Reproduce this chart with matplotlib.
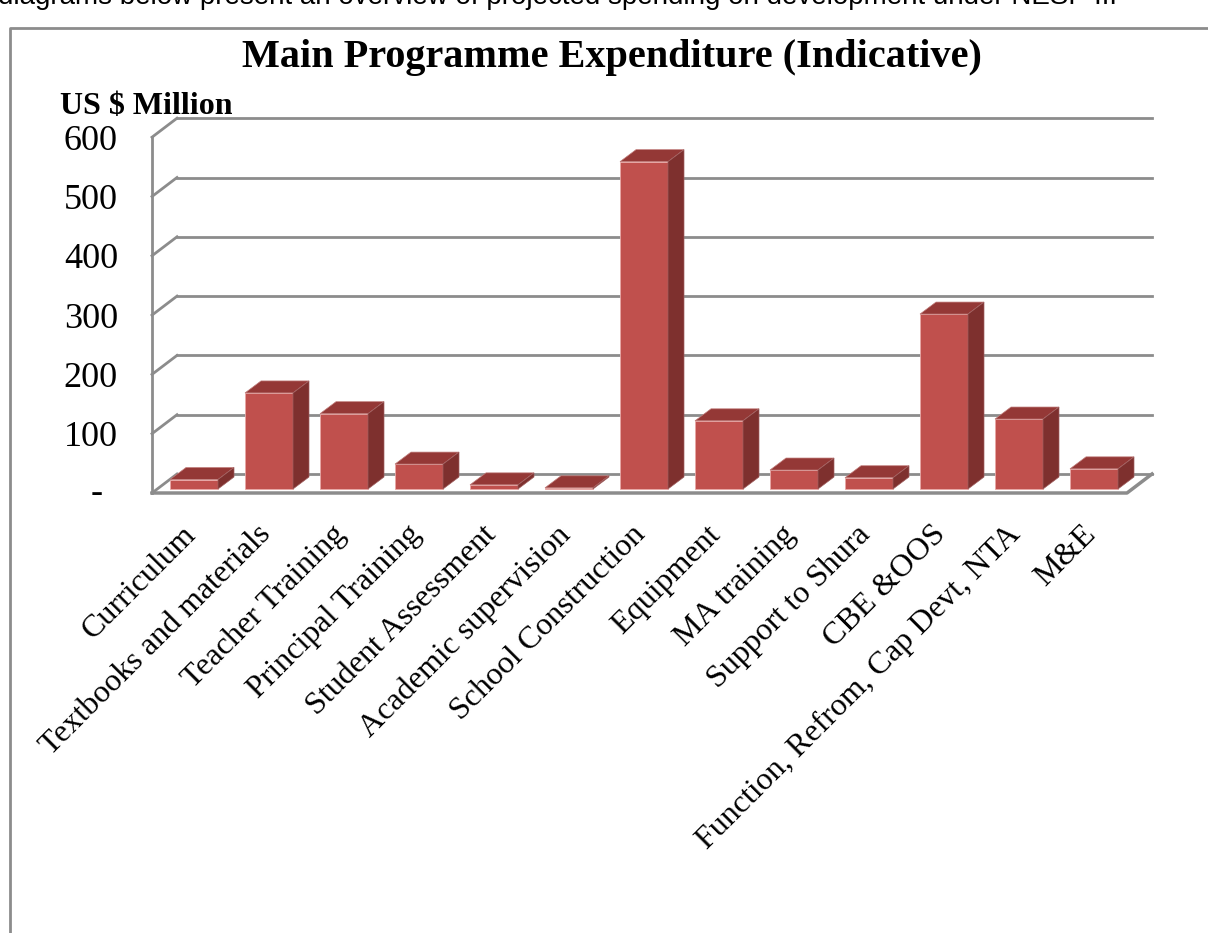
import matplotlib
matplotlib.use('Agg')
import matplotlib.pyplot as plt
from matplotlib.patches import Polygon
from matplotlib.lines import Line2D

categories = ['Curriculum', 'Textbooks and materials', 'Teacher Training',
              'Principal Training', 'Student Assessment', 'Academic supervision',
              'School Construction', 'Equipment', 'MA training', 'Support to Shura',
              'CBE &OOS', 'Function, Refrom, Cap Devt, NTA', 'M&E']
values = [16, 162, 127, 42, 7, 2, 552, 115, 32, 19, 295, 118, 34]
ticks = [0, 100, 200, 300, 400, 500, 600]
tick_labels = ['-', '100', '200', '300', '400', '500', '600']

W, H = 1208, 933
fig = plt.figure(figsize=(W / 100, H / 100), dpi=100)
ax = fig.add_axes([0, 0, 1, 1])

# pixel layout of the fake 3d frame: 1 category = 75 px, 100 units = 59.3 px
sx, sy = 75.0, 0.593
ox, oy = 194, 489
ax.set_xlim(-ox / sx, (W - ox) / sx)
ax.set_ylim((oy - H) / sy, oy / sy)
ax.axis('off')

grid_c = '#8c8c8c'
x_front = (152 - ox) / sx
y_front = -4 / sy
DX, DY = 25 / sx, 19 / sy
x_right_front = (1127 - ox) / sx
x_right = x_right_front + DX
ymax = ticks[-1]

# back wall gridlines + left wall diagonals
for t in ticks:
    yb = t + y_front + DY
    ax.plot([x_front + DX, x_right], [yb, yb], color=grid_c, lw=2, zorder=1)
    ax.plot([x_front, x_front + DX], [t + y_front, yb], color=grid_c, lw=2, zorder=1)
ax.plot([x_front, x_front], [y_front, ymax + y_front], color=grid_c, lw=2, zorder=1)
# floor
ax.plot([x_front, x_right_front, x_right], [y_front, y_front, y_front + DY],
        color=grid_c, lw=2.5, zorder=1)

# bars
bw = 0.64
bdx, bdy = 16 / sx, 12 / sy
front_c, top_c, side_c = '#c0504d', '#943836', '#7e302e'
xs = list(range(len(categories)))
ax.bar(xs, values, width=bw, bottom=0, color=front_c, edgecolor='#e8a8a6',
       linewidth=0.6, zorder=3)
for i, v in zip(xs, values):
    l, r = i - bw / 2, i + bw / 2
    ax.add_patch(Polygon([(l, v), (r, v), (r + bdx, v + bdy), (l + bdx, v + bdy)],
                         closed=True, facecolor=top_c, edgecolor='#c07c7a', lw=0.5, zorder=3))
    ax.add_patch(Polygon([(r, 0), (r + bdx, bdy), (r + bdx, v + bdy), (r, v)],
                         closed=True, facecolor=side_c, edgecolor='#a06060', lw=0.5, zorder=3))

# y tick labels on the front edge
serif = 'Liberation Serif'
lab_dy = -4 / sy
for t, lab in zip(ticks, tick_labels):
    if lab == '-':
        ax.text((97 - ox) / sx, t + y_front, lab, ha='center', va='center',
                fontsize=26, family=serif)
    else:
        ax.text((118 - ox) / sx, t + y_front + lab_dy, lab, ha='right', va='center',
                fontsize=26, family=serif)

# category labels
for i, c in zip(xs, categories):
    ax.text(i - 0.17, (oy - 520) / sy, c, rotation=45, rotation_mode='anchor',
            ha='right', va='top', fontsize=23, family=serif)

fig.text(612 / W, 1 - 58 / H, 'Main Programme Expenditure (Indicative)',
         ha='center', va='center', fontsize=29, fontweight='bold', family=serif)
fig.text(60 / W, 1 - 107 / H, 'US $ Million', ha='left', va='center',
         fontsize=23, fontweight='bold', family=serif)

# surrounding document bits
fig.text(-2 / W, 1 - 4 / H,
         'diagrams below present an overview of projected spending on development under NESP III',
         ha='left', va='baseline', fontsize=20, family='Liberation Sans')
fig.add_artist(Line2D([10 / W, 10 / W, 1], [0, 1 - 28 / H, 1 - 28 / H],
                      color='#8c8c8c', lw=2, transform=fig.transFigure))

fig.savefig('out.png', dpi=100)
